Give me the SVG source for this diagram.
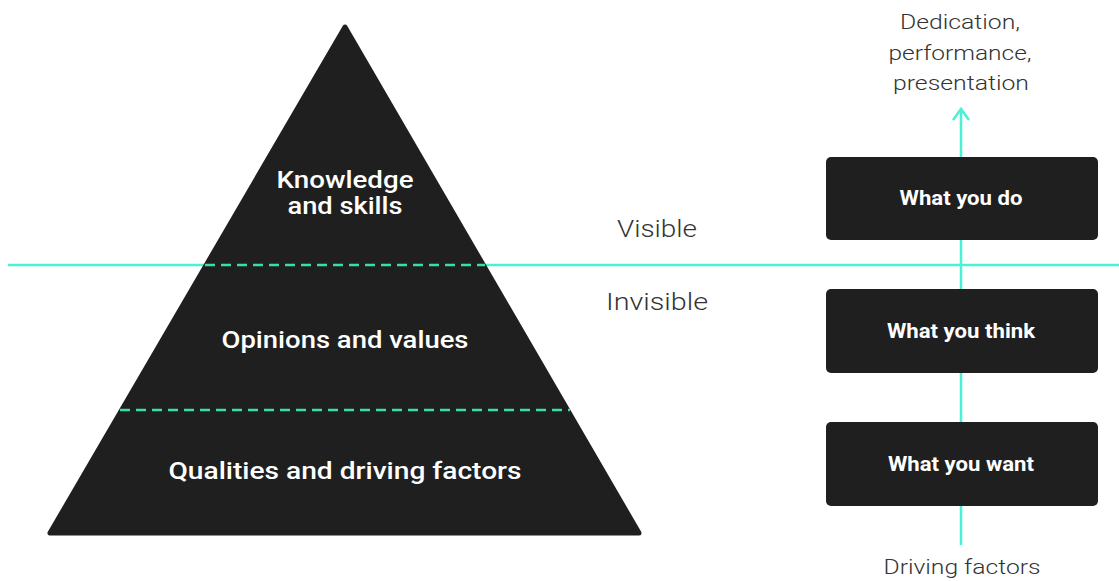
<svg xmlns="http://www.w3.org/2000/svg" width="1119" height="581" viewBox="0 0 1119 581">
  <style>
    .dark { fill: #1f1f1f; }
    .tier { font-family: Roboto, "Liberation Sans", sans-serif; font-weight: 500; font-size: 24px; fill: #ffffff; text-anchor: middle; }
    .box-label { font-family: Roboto, "Liberation Sans", sans-serif; font-weight: 700; font-size: 20px; fill: #ffffff; text-anchor: middle; }
    .note { font-family: Roboto, "Liberation Sans", sans-serif; font-weight: 300; font-size: 21px; fill: #333333; text-anchor: middle; }
    .side { font-family: Roboto, "Liberation Sans", sans-serif; font-weight: 300; font-size: 24px; fill: #333333; text-anchor: middle; }
    .waterline { stroke: #49f2d4; stroke-width: 2.5; fill: none; }
    .divider { stroke: #36e0a8; stroke-width: 2.5; stroke-dasharray: 10 6; fill: none; }
    .spine { stroke: #49f2d4; stroke-width: 2.5; fill: none; }
  </style>

  <rect width="1119" height="581" fill="#ffffff"/>

  <!-- connectors: waterline and vertical spine -->
  <g id="connectors">
    <line class="waterline" x1="8" y1="265" x2="1119" y2="265"/>
    <line class="spine" x1="961" y1="110" x2="961" y2="545"/>
    <polyline class="spine" points="953,120 961,109 969,120" stroke-linejoin="miter"/>
  </g>

  <!-- pyramid -->
  <g id="pyramid">
    <polygon class="dark" points="345,27 50,533 639,533" stroke="#1f1f1f" stroke-width="5" stroke-linejoin="round"/>
    <line class="divider" x1="205" y1="265" x2="485" y2="265"/>
    <line class="divider" x1="120" y1="410" x2="570" y2="410"/>
  </g>

  <g id="tier-knowledge">
    <text class="tier" x="345" y="188" textLength="137" lengthAdjust="spacingAndGlyphs">Knowledge</text>
    <text class="tier" x="345" y="214" textLength="115" lengthAdjust="spacingAndGlyphs">and skills</text>
  </g>
  <g id="tier-opinions">
    <text class="tier" x="345" y="348" textLength="247" lengthAdjust="spacingAndGlyphs">Opinions and values</text>
  </g>
  <g id="tier-qualities">
    <text class="tier" x="345" y="479" textLength="353" lengthAdjust="spacingAndGlyphs">Qualities and driving factors</text>
  </g>

  <g id="label-visible">
    <text class="side" x="657" y="237" textLength="80" lengthAdjust="spacingAndGlyphs">Visible</text>
  </g>
  <g id="label-invisible">
    <text class="side" x="657" y="310" textLength="102" lengthAdjust="spacingAndGlyphs">Invisible</text>
  </g>

  <!-- right-hand column -->
  <g id="box-do">
    <rect class="dark" x="826" y="157" width="272" height="83" rx="5"/>
    <text class="box-label" x="961" y="205" textLength="123" lengthAdjust="spacingAndGlyphs">What you do</text>
  </g>
  <g id="box-think">
    <rect class="dark" x="826" y="289" width="272" height="84" rx="5"/>
    <text class="box-label" x="961" y="338" textLength="148" lengthAdjust="spacingAndGlyphs">What you think</text>
  </g>
  <g id="box-want">
    <rect class="dark" x="826" y="422" width="272" height="84" rx="5"/>
    <text class="box-label" x="961" y="471" textLength="146" lengthAdjust="spacingAndGlyphs">What you want</text>
  </g>

  <g id="label-outcome">
    <text class="note" x="960" y="29" textLength="120" lengthAdjust="spacingAndGlyphs">Dedication,</text>
    <text class="note" x="960" y="60" textLength="143" lengthAdjust="spacingAndGlyphs">performance,</text>
    <text class="note" x="961" y="90" textLength="136" lengthAdjust="spacingAndGlyphs">presentation</text>
  </g>
  <g id="label-drivers">
    <text class="note" x="962" y="574" textLength="157" lengthAdjust="spacingAndGlyphs">Driving factors</text>
  </g>
</svg>
